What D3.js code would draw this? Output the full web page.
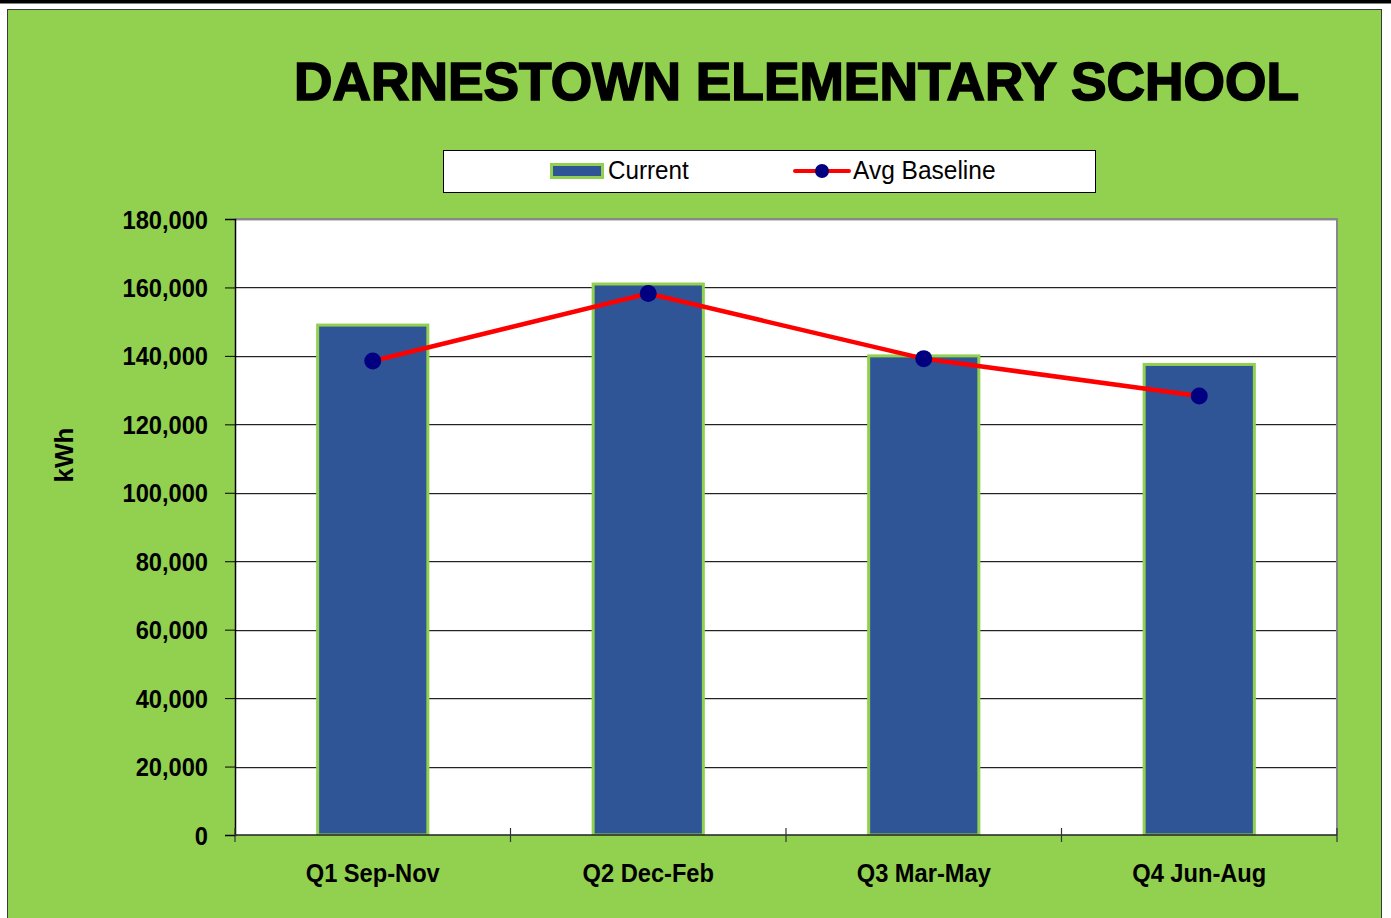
<!DOCTYPE html>
<html><head><meta charset="utf-8">
<script src="https://cdn.jsdelivr.net/npm/d3@7"></script>
<style>body{margin:0;background:#fff}svg{display:block}</style>
</head><body>
<script>
const categories = ["Q1 Sep-Nov","Q2 Dec-Feb","Q3 Mar-May","Q4 Jun-Aug"];
const currentValues = [149000, 161000, 140000, 137500];
const baselineValues = [138500, 158200, 139200, 128300];
const yTicks = [0,20000,40000,60000,80000,100000,120000,140000,160000,180000];
const title = "DARNESTOWN ELEMENTARY SCHOOL";
const seriesNames = ["Current","Avg Baseline"];

const W = 1391, H = 918;
const svg = d3.select("body").append("svg").attr("width", W).attr("height", H);
const narrow = "'Liberation Sans Narrow','Arial Narrow','Liberation Sans',Arial,sans-serif";
const sans = "'Liberation Sans',Arial,sans-serif";
const sx = 0.91;

svg.append("rect").attr("x",0).attr("y",0).attr("width",W).attr("height",3.5).attr("fill","#000");
svg.append("rect").attr("x",7.5).attr("y",9.5).attr("width",1374).attr("height",915)
  .attr("fill","#92D050").attr("stroke","#3a3a3a").attr("stroke-width",1);

svg.append("text").attr("x",294).attr("y",100).attr("textLength",1005).attr("lengthAdjust","spacingAndGlyphs")
  .attr("font-family",sans).attr("font-weight","bold").attr("font-size",53).attr("fill","#000")
  .attr("stroke","#000").attr("stroke-width",1.6).text(title);

const m = {l:235, r:1337, t:219, b:835};
const x = d3.scaleBand().domain(categories).range([m.l,m.r]).paddingInner(0.6).paddingOuter(0.3);
const xc = d3.scaleBand().domain(categories).range([m.l,m.r]);
const y = d3.scaleLinear().domain([0,180000]).range([m.b,m.t]);

svg.append("rect").attr("x",m.l).attr("y",m.t).attr("width",m.r-m.l).attr("height",m.b-m.t).attr("fill","#fff");
svg.append("g").selectAll("line").data(yTicks.filter(d=>d>0)).join("line")
  .attr("x1",m.l).attr("x2",m.r).attr("y1",d=>Math.round(y(d))+0.5).attr("y2",d=>Math.round(y(d))+0.5)
  .attr("stroke","#222").attr("stroke-width",1);
svg.append("g").selectAll("line").data(yTicks.filter(d=>d>0)).join("line")
  .attr("x1",m.l).attr("x2",m.r).attr("y1",d=>Math.round(y(d))+1.5).attr("y2",d=>Math.round(y(d))+1.5)
  .attr("stroke","#ccc").attr("stroke-width",1);
svg.append("path").attr("d",`M${m.l},${m.t} H${m.r} V${m.b}`).attr("fill","none").attr("stroke","#888").attr("stroke-width",2);

svg.append("g").selectAll("rect").data(currentValues).join("rect")
  .attr("x",(d,i)=>x(categories[i])).attr("width",x.bandwidth())
  .attr("y",d=>y(d)).attr("height",d=>m.b-y(d))
  .attr("fill","#2F5597").attr("stroke","#92D050").attr("stroke-width",3);

const ya = d3.axisLeft(y).tickValues(yTicks).tickFormat(d3.format(",")).tickSize(10).tickPadding(16);
const yg = svg.append("g").attr("transform",`translate(${m.l},0)`).call(ya);
yg.select(".domain").attr("stroke","#000").attr("stroke-width",1.5);
yg.selectAll(".tick line").attr("stroke","#000");
yg.selectAll("text").attr("font-family",narrow).attr("font-weight","bold").attr("font-size",26).attr("fill","#000")
  .attr("dy","0.35em").attr("x",-27/sx).attr("transform",`scale(${sx},1)`);

svg.append("line").attr("x1",m.l).attr("x2",m.r).attr("y1",m.b).attr("y2",m.b).attr("stroke","#222").attr("stroke-width",1.5);
const boundaries = categories.map(c=>xc(c)).concat([m.r]);
svg.append("g").selectAll("line").data(boundaries).join("line")
  .attr("x1",d=>d).attr("x2",d=>d).attr("y1",m.b-7).attr("y2",m.b+7).attr("stroke","#333").attr("stroke-width",1.2);
svg.append("g").selectAll("text").data(categories).join("text")
  .attr("transform",d=>`translate(${xc(d)+xc.bandwidth()/2},882) scale(${sx},1)`).attr("text-anchor","middle")
  .attr("font-family",narrow).attr("font-weight","bold").attr("font-size",26).attr("fill","#000").text(d=>d);

svg.append("text").attr("transform","translate(73,455) rotate(-90)").attr("text-anchor","middle")
  .attr("font-family",sans).attr("font-weight","bold").attr("font-size",26).text("kWh");

const cx = (i)=>xc(categories[i])+xc.bandwidth()/2;
svg.append("path").datum(baselineValues)
  .attr("d",d3.line().x((d,i)=>cx(i)).y(d=>y(d)))
  .attr("fill","none").attr("stroke","#FF0000").attr("stroke-width",4.5);
svg.append("g").selectAll("circle").data(baselineValues).join("circle")
  .attr("cx",(d,i)=>cx(i)).attr("cy",d=>y(d)).attr("r",8.5).attr("fill","#000080");

const lg = svg.append("g");
lg.append("rect").attr("x",443.5).attr("y",150.5).attr("width",652).attr("height",42).attr("fill","#fff").attr("stroke","#000").attr("stroke-width",1);
lg.append("rect").attr("x",551.5).attr("y",164.5).attr("width",51).attr("height",13).attr("fill","#2F5597").attr("stroke","#92D050").attr("stroke-width",3);
lg.append("text").attr("transform","translate(608,179) scale(0.97,1)").attr("font-family",narrow).attr("font-size",25).text(seriesNames[0]);
lg.append("line").attr("x1",795).attr("x2",849).attr("y1",171).attr("y2",171).attr("stroke","#FF0000").attr("stroke-width",4).attr("stroke-linecap","round");
lg.append("circle").attr("cx",822).attr("cy",171).attr("r",7).attr("fill","#000080");
lg.append("text").attr("transform","translate(853,179) scale(0.98,1)").attr("font-family",narrow).attr("font-size",25).text(seriesNames[1]);
</script>
</body></html>
